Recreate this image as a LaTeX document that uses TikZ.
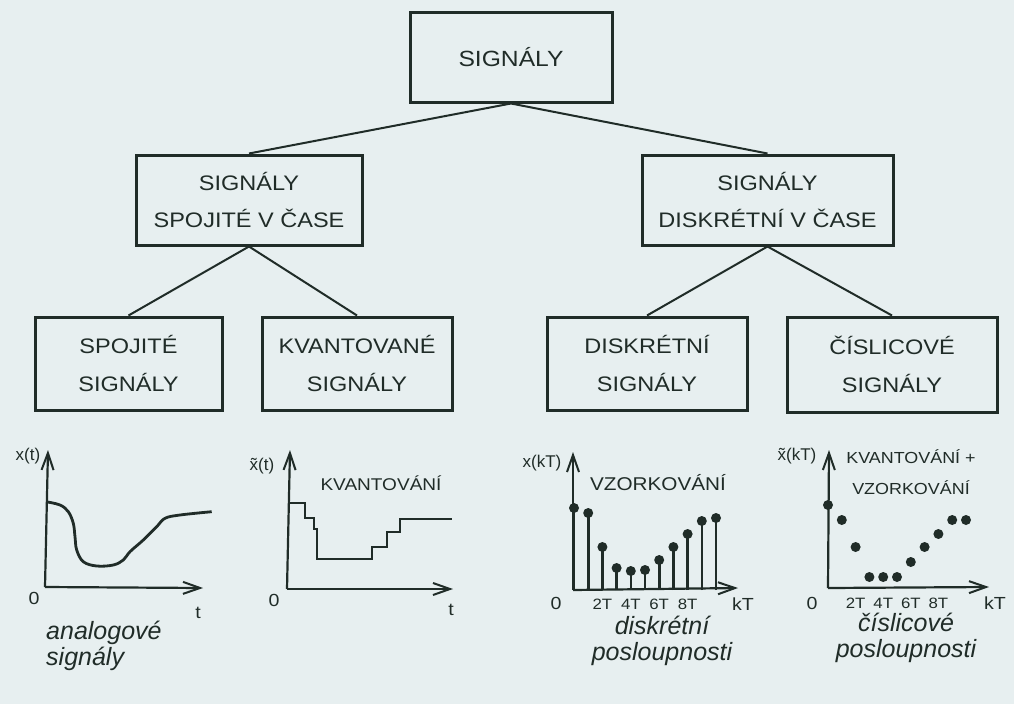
\documentclass[tikz,border=0pt]{standalone}
\usepackage{fontspec}
\setmainfont{Liberation Sans}
\newfontfamily\widesans[FakeStretch=1.12]{Liberation Sans}
\usetikzlibrary{arrows.meta,calc}
\definecolor{ink}{RGB}{32,44,40}
\definecolor{paper}{RGB}{231,239,240}
\tikzset{
  box/.style={draw=ink, line width=3pt, align=center, text=ink,
    font=\widesans\fontsize{21}{37.5}\selectfont, inner sep=0pt},
  conn/.style={draw=ink, line width=2pt},
  axis/.style={draw=ink, line width=2.2pt, -{Straight Barb[length=17pt,width=12pt,line width=2pt]}},
  curve/.style={draw=ink, line width=2.8pt},
  lbl/.style={text=ink, font=\fontsize{17}{19}\selectfont, inner sep=0pt},
  tick/.style={text=ink, font=\widesans\fontsize{15}{18}\selectfont, inner sep=0pt},
  big/.style={text=ink, font=\widesans\fontsize{17.5}{18}\selectfont, inner sep=0pt},
  head/.style={text=ink, font=\widesans\fontsize{17}{31}\selectfont, inner sep=0pt, align=center},
  capt/.style={text=ink, font=\fontsize{25}{26}\selectfont\itshape, inner sep=0pt, align=center},
  dot/.style={circle, fill=ink, inner sep=0pt, minimum size=10pt},
}
\begin{document}
\begin{tikzpicture}[x=1pt,y=-1pt]
\fill[paper] (0,0) rectangle (1014,704);
\useasboundingbox (0,0) rectangle (1014,704);

% tree
\node[box, minimum width=202, minimum height=90, font=\widesans\fontsize{22}{37.5}\selectfont] (top) at (511,57) {SIGNÁLY};
\node[box, minimum width=226, minimum height=90] (mleft) at (249,200) {SIGNÁLY\\SPOJITÉ V ČASE};
\node[box, minimum width=251, minimum height=90] (mright) at (767.5,200) {SIGNÁLY\\DISKRÉTNÍ V ČASE};
\node[box, minimum width=187, minimum height=93] (b1) at (128.5,363.5) {SPOJITÉ\\SIGNÁLY};
\node[box, minimum width=190, minimum height=93] (b2) at (357,363.5) {KVANTOVANÉ\\SIGNÁLY};
\node[box, minimum width=200, minimum height=93] (b3) at (647,363.5) {DISKRÉTNÍ\\SIGNÁLY};
\node[box, minimum width=210, minimum height=95] (b4) at (892,364.5) {ČÍSLICOVÉ\\SIGNÁLY};

\draw[conn] (top.south) -- (mleft.north);
\draw[conn] (top.south) -- (mright.north);
\draw[conn] (mleft.south) -- (b1.north);
\draw[conn] (mleft.south) -- (b2.north);
\draw[conn] (mright.south) -- (b3.north);
\draw[conn] (mright.south) -- (b4.north);

% plot 1: analog
\coordinate (o1) at (45,587);
\draw[axis] (o1) -- (48,450);
\draw[axis] (o1) -- (203,588);
\node[lbl] (l1) at (28,456) {x(t)};
\node[big] (z1) at (34,598) {0};
\node[big] (t1) at (198,613) {t};
\draw[curve] plot[smooth, tension=0.6] coordinates {(46,501.7) (60,505) (68.3,511.7) (73.3,523.3) (75,536.7) (76.7,550) (83.3,561.7) (96.7,566) (113.3,565) (123.3,560) (130,551.7) (143.3,540) (156.7,526.7) (165,518.3) (180,515) (211.7,511.7)};
\node[capt, anchor=west, align=left] (c1) at (46,646) {analogové\\signály};

% plot 2: quantized
\coordinate (o2) at (287,589);
\draw[axis] (o2) -- (290,450);
\draw[axis] (o2) -- (453,589);
\node[lbl] (l2) at (262,466) {\~x(t)};
\node[big] (z2) at (274,600) {0};
\node[big] (t2) at (451,610) {t};
\node[head] (h2) at (381,483) {KVANTOVÁNÍ};
\draw[curve] (288,503) -- (305,503) -- (305,518) -- (314,518) -- (314,529) -- (317,529) -- (317,559) -- (372,559) -- (372,547) -- (387,547) -- (387,532) -- (400,532) -- (400,519) -- (452,519);

% plot 3: discrete
\coordinate (o3) at (573,590);
\draw[axis] (o3) -- (573,452);
\draw[axis] (o3) -- (738,588);
\node[lbl] (l3) at (542,463) {x(kT)};
\node[head, font=\widesans\fontsize{18.5}{31}\selectfont] (h3) at (658,483) {VZORKOVÁNÍ};
\node[big] (z3) at (556,603) {0};
\foreach \k/\lab in {2/2T,4/4T,6/6T,8/8T} \node[tick] at (574+14.2*\k,604) {\lab};
\node[big] (k3) at (743,604) {kT};
\foreach \k/\yy in {0/508,1/513,2/547,3/568,4/571,5/570,6/560,7/547,8/534,9/521,10/518} {
  \draw[ink, line width=2.6pt] (574+14.2*\k,590) -- (574+14.2*\k,\yy);
  \node[dot] at (574+14.2*\k,\yy) {};
}
\node[capt] (c3) at (662,641) {diskrétní\\posloupnosti};

% plot 4: digital
\coordinate (o4) at (828,588);
\draw[axis] (o4) -- (829,450);
\draw[axis] (o4) -- (989,587);
\node[lbl] (l4) at (797,456) {\~x(kT)};
\node[head, font=\widesans\fontsize{16}{31}\selectfont] (h4) at (911,472) {KVANTOVÁNÍ +\\VZORKOVÁNÍ};
\node[big] (z4) at (812,603) {0};
\foreach \k/\lab in {2/2T,4/4T,6/6T,8/8T} \node[tick] at (828+13.8*\k,603) {\lab};
\node[big] (k4) at (995,603) {kT};
\foreach \k/\yy in {0/505,1/520,2/547,3/577,4/577,5/577,6/562,7/547,8/534,9/520,10/520}
  \node[dot] at (828+13.8*\k,\yy) {};
\node[capt] (c4) at (906,638) {číslicové\\posloupnosti};
\end{tikzpicture}
\end{document}
